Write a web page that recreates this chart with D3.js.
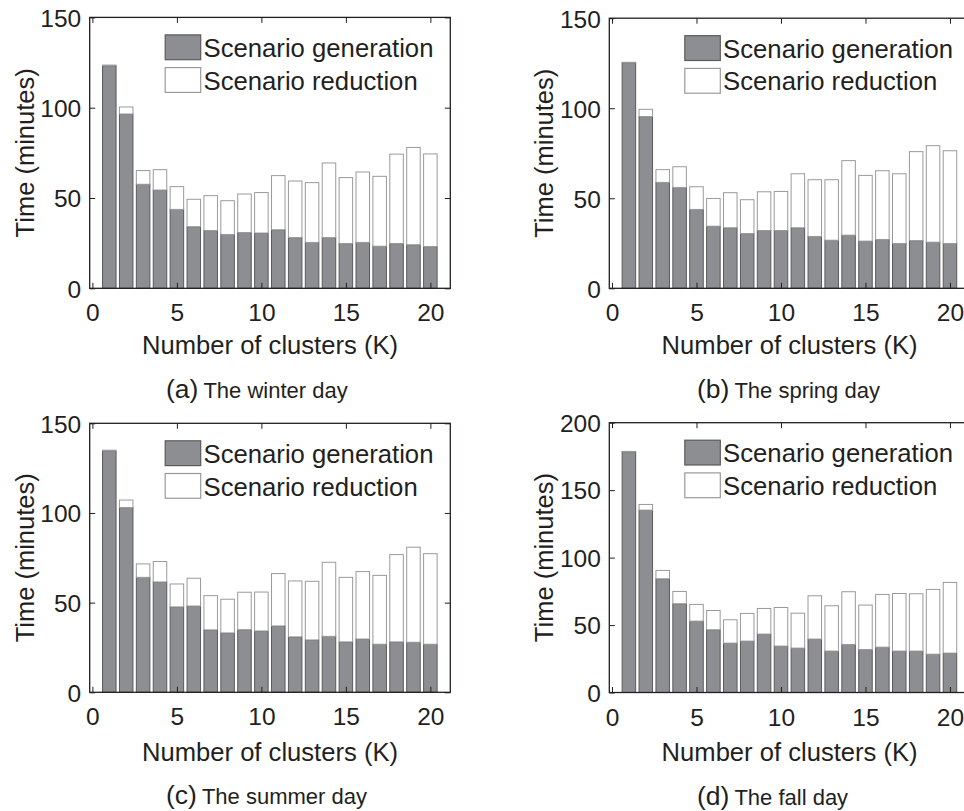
<!DOCTYPE html>
<html>
<head>
<meta charset="utf-8">
<script src="https://cdn.jsdelivr.net/npm/d3@7"></script>
<style>
body { margin: 0; background: #fff; }
svg text { font-family: "Liberation Sans", Arial, Helvetica, sans-serif; fill: #231f20; }
</style>
</head>
<body>
<svg id="chart" width="964" height="811"></svg>
<script>

/// number of clusters K
var clusters = d3.range(1, 21);

/// time (minutes), generation part and reduction part
var winterGen = [123.2, 96.5, 57.6, 54.4, 43.7, 34.1, 32.0, 29.8, 30.9, 30.6, 32.4, 28.1, 25.4, 28.1, 24.8, 25.4, 23.3, 24.8, 24.1, 23.1];
var winterRed = [0.4, 3.9, 7.6, 11.3, 12.6, 15.2, 19.3, 18.7, 21.3, 22.4, 30.0, 31.3, 33.1, 41.3, 36.5, 39.0, 38.7, 49.5, 53.9, 51.3];

var springGen = [125.2, 95.4, 58.8, 56.0, 43.8, 34.5, 33.6, 30.4, 32.1, 32.1, 33.6, 28.8, 26.7, 29.5, 26.2, 27.1, 24.9, 26.5, 25.6, 24.9];
var springRed = [0.3, 4.0, 7.1, 11.5, 12.6, 15.4, 19.5, 18.8, 21.5, 21.7, 30.0, 31.5, 33.6, 41.4, 36.5, 38.2, 38.7, 49.4, 53.6, 51.5];

var summerGen = [134.6, 103.0, 64.1, 61.5, 47.6, 48.1, 34.8, 33.1, 34.9, 34.2, 37.0, 30.9, 29.2, 31.2, 28.1, 29.7, 26.8, 28.1, 27.9, 26.8];
var summerRed = [0.4, 4.2, 7.5, 11.4, 12.8, 15.5, 19.1, 18.8, 20.9, 21.7, 29.2, 31.2, 32.7, 41.3, 36.0, 37.6, 38.4, 48.7, 53.0, 50.5];

var fallGen = [178.4, 135.2, 84.3, 65.8, 52.9, 46.5, 36.6, 38.1, 43.3, 34.4, 32.9, 39.6, 30.7, 35.6, 31.9, 33.6, 30.7, 30.7, 28.4, 29.2];
var fallRed = [0.3, 4.2, 6.2, 9.1, 12.4, 14.3, 17.3, 20.5, 19.0, 28.6, 25.9, 32.1, 33.6, 39.1, 32.9, 39.1, 42.7, 42.5, 48.0, 52.4];

var seriesNames = ["Scenario generation", "Scenario reduction"];
var xTicks = [0, 5, 10, 15, 20];
var yTicksLow = [0, 50, 100, 150];
var yTicksHigh = [0, 50, 100, 150, 200];

var panels = [
    {tag: "(a)", title: "The winter day", gen: winterGen, red: winterRed, ymax: 150, yticks: yTicksLow, left: 89.7, top: 17.4, bottom: 288.3},
    {tag: "(b)", title: "The spring day", gen: springGen, red: springRed, ymax: 150, yticks: yTicksLow, left: 609.3, top: 18.2, bottom: 288.3},
    {tag: "(c)", title: "The summer day", gen: summerGen, red: summerRed, ymax: 150, yticks: yTicksLow, left: 89.7, top: 423.3, bottom: 692.3},
    {tag: "(d)", title: "The fall day", gen: fallGen, red: fallRed, ymax: 200, yticks: yTicksHigh, left: 609.3, top: 422.7, bottom: 692.5}
];

var boxWidth = 360.6;
var genFill = "#8d8e92", genStroke = "#5a5a5c";
var redFill = "#ffffff", redStroke = "#9a9a9a";
var ink = "#231f20";

var svg = d3.select("#chart");

panels.forEach(function(p){

    var g = svg.append("g");
    var lowRow = p.bottom > 500;

    var x = d3.scaleLinear()
        .domain([-0.16, 21.18])
        .range([p.left, p.left + boxWidth]);

    var y = d3.scaleLinear()
        .domain([0, p.ymax])
        .range([p.bottom, p.top]);

    var data = clusters.map(function(k, i){
        return {k: k, gen: p.gen[i], red: p.red[i]};
    });

    var bw = x(0.4) - x(-0.4);

    /// stacked bars : generation at the bottom
    g.append("g").selectAll("rect")
        .data(data)
      .enter().append("rect")
        .attr("x", function(d){ return x(d.k - 0.4); })
        .attr("y", function(d){ return y(d.gen); })
        .attr("width", bw)
        .attr("height", function(d){ return y(0) - y(d.gen); })
        .attr("fill", genFill)
        .attr("stroke", genStroke)
        .attr("stroke-width", 1);

    /// reduction on top
    g.append("g").selectAll("rect")
        .data(data)
      .enter().append("rect")
        .attr("x", function(d){ return x(d.k - 0.4); })
        .attr("y", function(d){ return y(d.gen + d.red); })
        .attr("width", bw)
        .attr("height", function(d){ return y(d.gen) - y(d.gen + d.red); })
        .attr("fill", redFill)
        .attr("stroke", redStroke)
        .attr("stroke-width", 1);

    /// ticks inside the box, on all four sides
    var xb = g.append("g")
        .attr("transform", "translate(0," + p.bottom + ")")
        .call(d3.axisBottom(x).tickValues(xTicks).tickSizeInner(-5.5).tickSizeOuter(0));
    xb.selectAll(".tick text").attr("y", lowRow ? 33 : 32.5).attr("dy", null);

    var xt = g.append("g")
        .attr("transform", "translate(0," + p.top + ")")
        .call(d3.axisTop(x).tickValues(xTicks).tickSizeInner(-5.5).tickSizeOuter(0));
    xt.selectAll(".tick text").remove();

    var yl = g.append("g")
        .attr("transform", "translate(" + p.left + ",0)")
        .call(d3.axisLeft(y).tickValues(p.yticks).tickSizeInner(-5.5).tickSizeOuter(0));
    yl.selectAll(".tick text").attr("x", -8.5).attr("dy", "0.36em");

    var yr = g.append("g")
        .attr("transform", "translate(" + (p.left + boxWidth) + ",0)")
        .call(d3.axisRight(y).tickValues(p.yticks).tickSizeInner(-5.5).tickSizeOuter(0));
    yr.selectAll(".tick text").remove();

    g.selectAll(".domain").remove();
    g.selectAll(".tick line").attr("stroke", ink).attr("stroke-width", 1);
    g.selectAll(".tick text").attr("font-size", 24.5).attr("fill", ink);

    /// the box
    g.append("rect")
        .attr("x", p.left)
        .attr("y", p.top)
        .attr("width", boxWidth)
        .attr("height", p.bottom - p.top)
        .attr("fill", "none")
        .attr("stroke", ink)
        .attr("stroke-width", 1.3);

    /// axis titles
    g.append("text")
        .attr("x", p.left + boxWidth / 2)
        .attr("y", p.bottom + (lowRow ? 68.5 : 66))
        .attr("text-anchor", "middle")
        .attr("font-size", 25.6)
        .text("Number of clusters (K)");

    g.append("text")
        .attr("transform", "translate(" + (p.left - 56) + "," + ((p.top + p.bottom) / 2) + ") rotate(-90)")
        .attr("text-anchor", "middle")
        .attr("font-size", 25.5)
        .text("Time (minutes)");

    /// legend
    var lx = p.left + 75.5, ly = p.top + 17.5;
    [genFill, redFill].forEach(function(c, i){
        g.append("rect")
            .attr("x", lx)
            .attr("y", ly + i * 32.7)
            .attr("width", 35.5)
            .attr("height", 24.8)
            .attr("fill", c)
            .attr("stroke", i === 0 ? genStroke : redStroke)
            .attr("stroke-width", 1.2);
        g.append("text")
            .attr("x", lx + 38.3)
            .attr("y", ly + i * 32.7 + 22)
            .attr("font-size", 25.7)
            .text(seriesNames[i]);
    });

    /// caption under the panel
    var cap = g.append("text")
        .attr("x", p.left < 300 ? 166 : 697)
        .attr("y", p.bottom + (lowRow ? 112 : 110));
    cap.append("tspan").attr("font-size", 26.5).text(p.tag);
    cap.append("tspan").attr("font-size", 22).attr("dx", 5).text(p.title);
});

</script>
</body>
</html>
